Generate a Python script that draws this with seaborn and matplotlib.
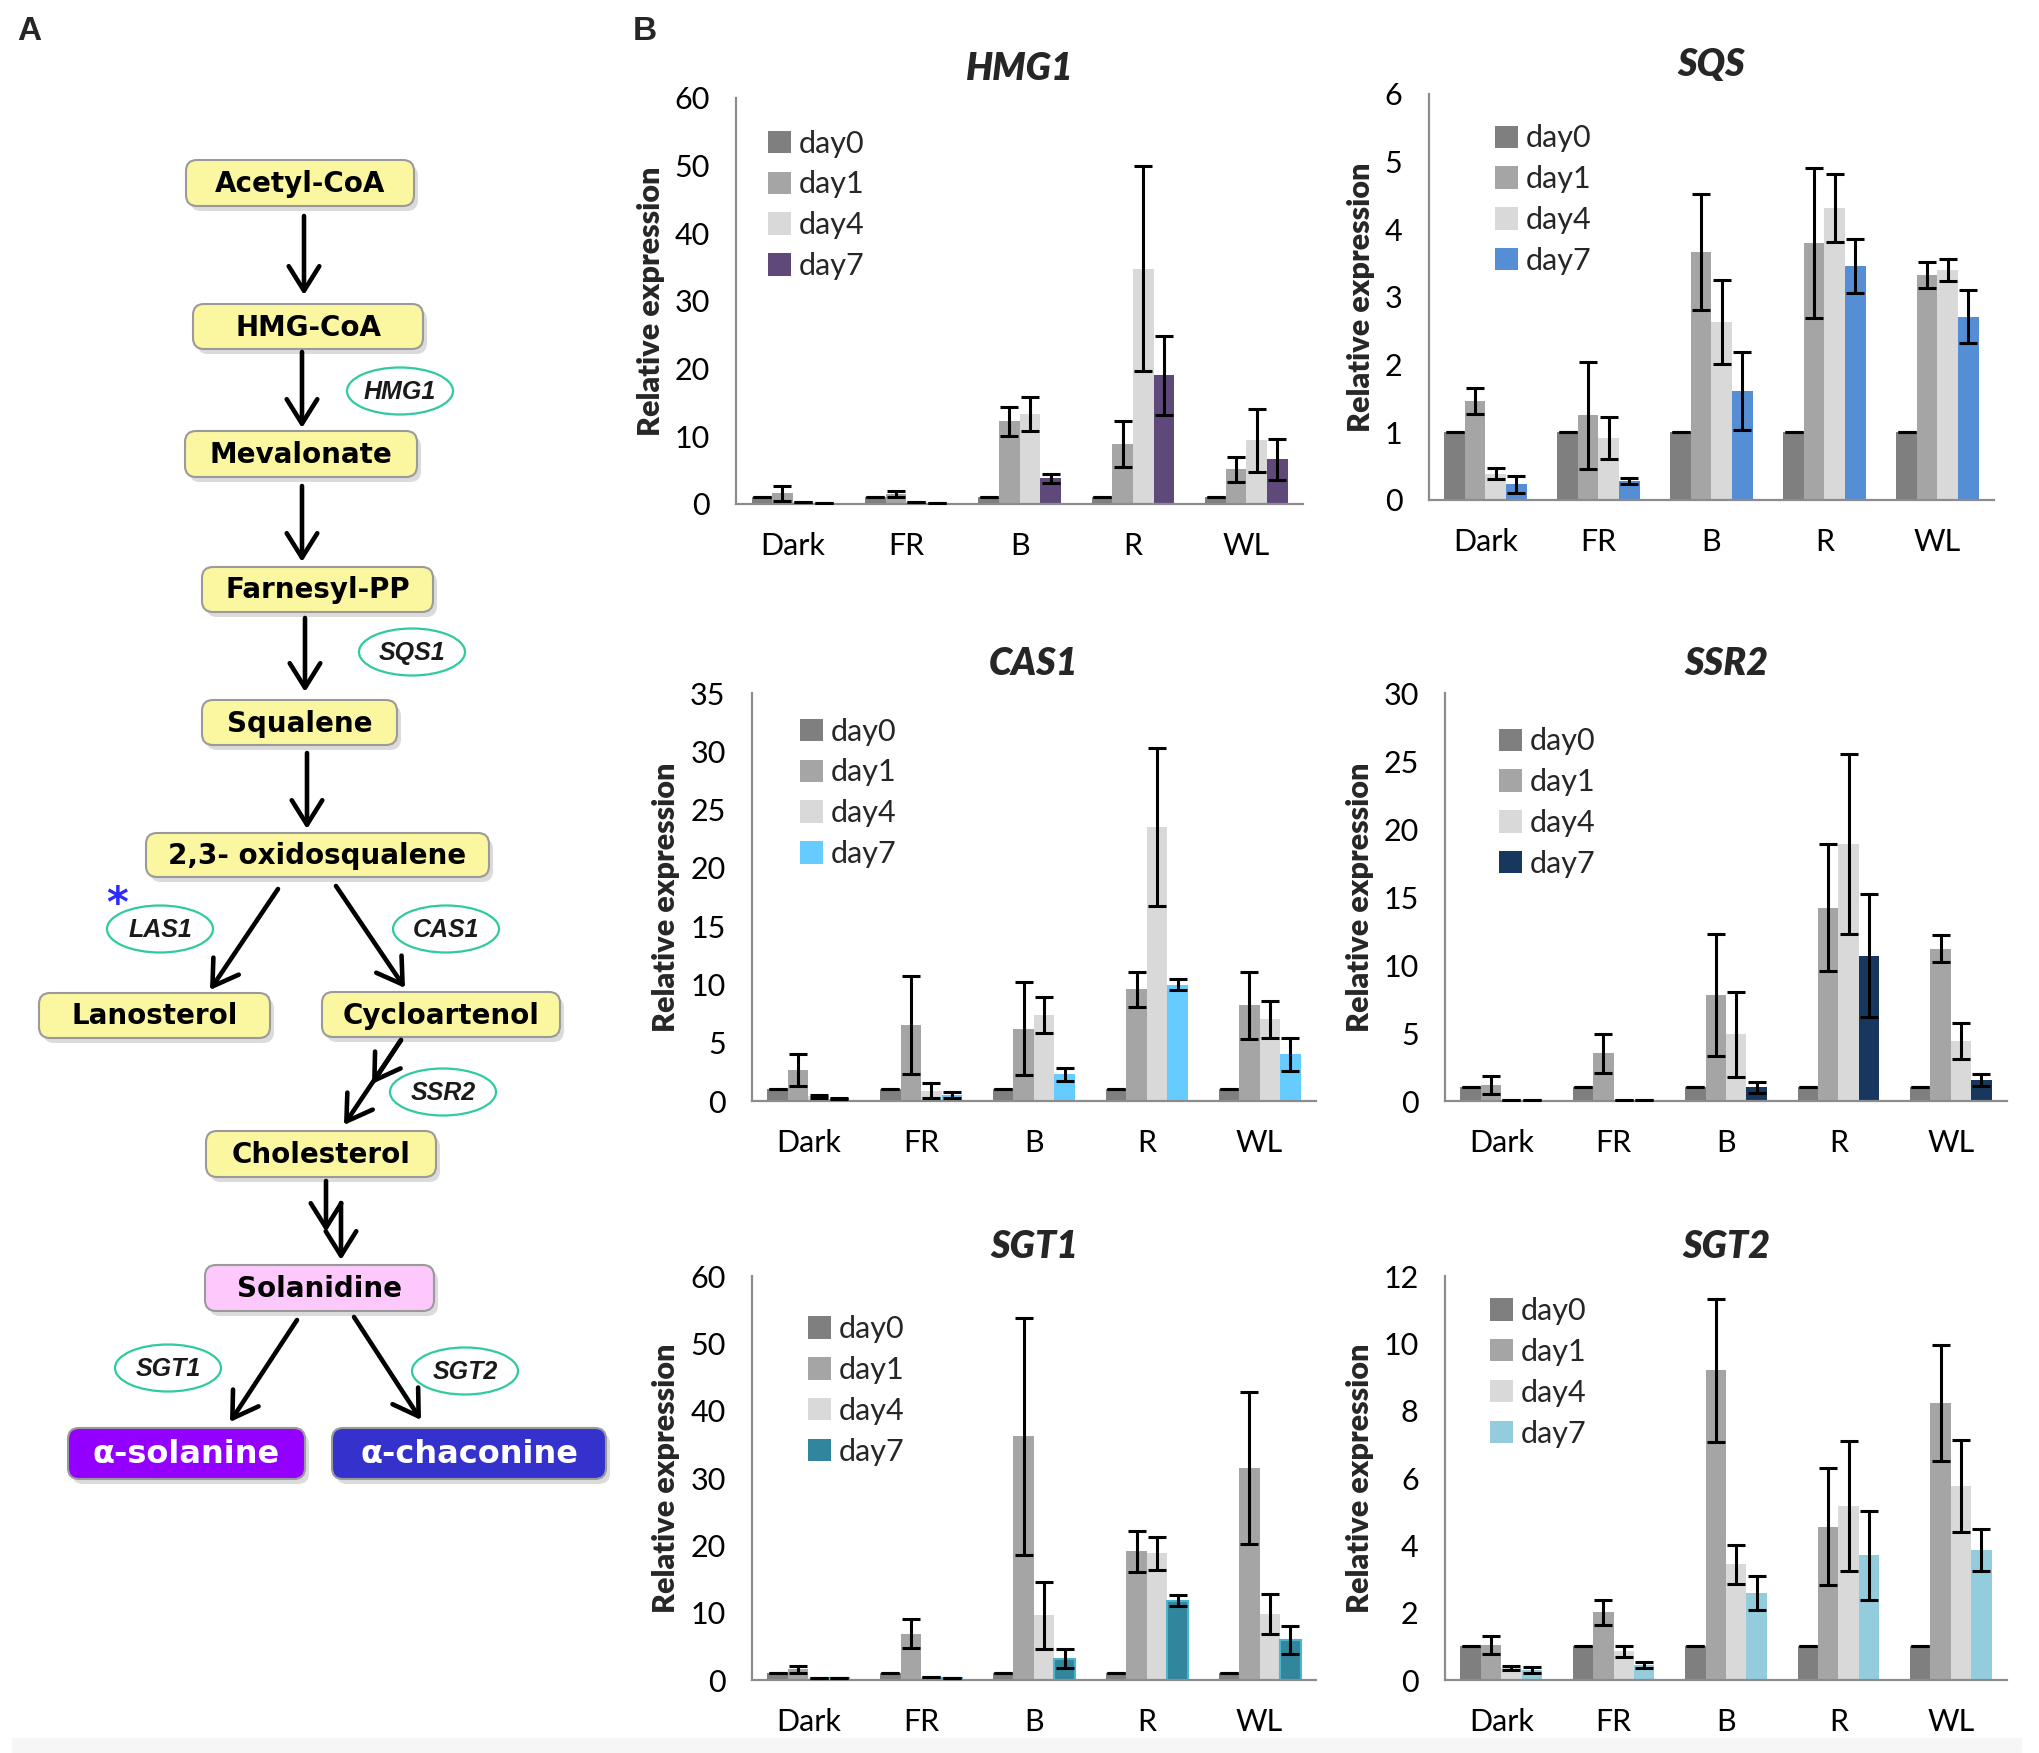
import numpy as np
import pandas as pd
import matplotlib
matplotlib.use("Agg")
import matplotlib.pyplot as plt
from matplotlib.patches import FancyBboxPatch, Ellipse, FancyArrowPatch, Rectangle
from matplotlib.container import BarContainer
import seaborn as sns

# ---------------- data ----------------
conditions = ["Dark", "FR", "B", "R", "WL"]
days = ["day0", "day1", "day4", "day7"]
genes = ["HMG1", "SQS", "CAS1", "SSR2", "SGT1", "SGT2"]

day0_vals = [1, 1, 1, 1, 1]
day0_err = [0, 0, 0, 0, 0]

hmg1_day1 = [1.6, 1.5, 12.2, 8.9, 5.1]
hmg1_day1_err = [1.1, 0.4, 2.2, 3.4, 1.9]
hmg1_day4 = [0.3, 0.3, 13.3, 34.8, 9.4]
hmg1_day4_err = [0.0, 0.0, 2.5, 15.2, 4.6]
hmg1_day7 = [0.2, 0.2, 3.8, 19.0, 6.6]
hmg1_day7_err = [0.0, 0.0, 0.7, 5.8, 3.0]

sqs_day1 = [1.46, 1.25, 3.66, 3.80, 3.32]
sqs_day1_err = [0.19, 0.79, 0.86, 1.11, 0.19]
sqs_day4 = [0.39, 0.91, 2.63, 4.31, 3.40]
sqs_day4_err = [0.08, 0.31, 0.62, 0.50, 0.16]
sqs_day7 = [0.23, 0.28, 1.61, 3.46, 2.71]
sqs_day7_err = [0.12, 0.04, 0.58, 0.40, 0.39]

cas1_day1 = [2.7, 6.5, 6.2, 9.6, 8.2]
cas1_day1_err = [1.37, 4.2, 4.0, 1.5, 2.85]
cas1_day4 = [0.4, 0.9, 7.4, 23.5, 7.0]
cas1_day4_err = [0.15, 0.65, 1.55, 6.75, 1.6]
cas1_day7 = [0.2, 0.55, 2.3, 10.0, 4.0]
cas1_day7_err = [0.03, 0.27, 0.55, 0.5, 1.4]

ssr2_day1 = [1.2, 3.5, 7.8, 14.2, 11.2]
ssr2_day1_err = [0.65, 1.44, 4.5, 4.67, 1.0]
ssr2_day4 = [0.05, 0.05, 4.9, 18.9, 4.4]
ssr2_day4_err = [0.0, 0.0, 3.1, 6.6, 1.33]
ssr2_day7 = [0.05, 0.05, 1.0, 10.7, 1.55]
ssr2_day7_err = [0.0, 0.0, 0.41, 4.55, 0.45]

sgt1_day1 = [1.6, 6.9, 36.2, 19.1, 31.5]
sgt1_day1_err = [0.5, 2.1, 17.6, 3.0, 11.3]
sgt1_day4 = [0.3, 0.4, 9.6, 18.8, 9.8]
sgt1_day4_err = [0.0, 0.0, 5.0, 2.4, 3.0]
sgt1_day7 = [0.3, 0.3, 3.2, 11.8, 6.0]
sgt1_day7_err = [0.0, 0.0, 1.4, 0.8, 2.1]

sgt2_day1 = [1.04, 2.01, 9.2, 4.55, 8.23]
sgt2_day1_err = [0.27, 0.36, 2.12, 1.74, 1.73]
sgt2_day4 = [0.36, 0.85, 3.44, 5.17, 5.77]
sgt2_day4_err = [0.07, 0.16, 0.58, 1.93, 1.36]
sgt2_day7 = [0.3, 0.45, 2.59, 3.7, 3.87]
sgt2_day7_err = [0.08, 0.09, 0.5, 1.33, 0.62]

y_max = [60, 6, 35, 30, 60, 12]
y_step = [10, 1, 5, 5, 10, 2]

# ---------------- style ----------------
sns.set_style("white")
plt.rcParams["font.family"] = ["Lato", "DejaVu Sans"]

base_colors = ["#7f7f7f", "#a5a5a5", "#d9d9d9"]
day7_colors = ["#5f497a", "#558ed5", "#66ccff", "#17375e", "#31859c", "#93cddd"]

series = {
    "HMG1": [(hmg1_day1, hmg1_day1_err), (hmg1_day4, hmg1_day4_err), (hmg1_day7, hmg1_day7_err)],
    "SQS": [(sqs_day1, sqs_day1_err), (sqs_day4, sqs_day4_err), (sqs_day7, sqs_day7_err)],
    "CAS1": [(cas1_day1, cas1_day1_err), (cas1_day4, cas1_day4_err), (cas1_day7, cas1_day7_err)],
    "SSR2": [(ssr2_day1, ssr2_day1_err), (ssr2_day4, ssr2_day4_err), (ssr2_day7, ssr2_day7_err)],
    "SGT1": [(sgt1_day1, sgt1_day1_err), (sgt1_day4, sgt1_day4_err), (sgt1_day7, sgt1_day7_err)],
    "SGT2": [(sgt2_day1, sgt2_day1_err), (sgt2_day4, sgt2_day4_err), (sgt2_day7, sgt2_day7_err)],
}

W, H = 2039, 1753
fig = plt.figure(figsize=(W / 100, H / 100), dpi=100)

# ---------------- overlay (panel A + labels) ----------------
ov = fig.add_axes([0, 0, 1, 1])
ov.set_xlim(0, W)
ov.set_ylim(H, 0)
ov.axis("off")

ov.add_patch(Rectangle((12, 1738), 2010, 15, color="#f6f6f6", lw=0, zorder=0))
ov.text(29, 31, "A", fontsize=24, fontweight="bold", family="Liberation Sans", ha="center", va="center")
ov.text(645, 31, "B", fontsize=24, fontweight="bold", family="Liberation Sans", ha="center", va="center")

yellow = "#fbf6a0"
boxes = [
    ("Acetyl-CoA", 186, 160, 414, 206, yellow, "black", 20),
    ("HMG-CoA", 193, 304, 423, 349, yellow, "black", 20),
    ("Mevalonate", 185, 431, 417, 477, yellow, "black", 20),
    ("Farnesyl-PP", 202, 567, 433, 612, yellow, "black", 20),
    ("Squalene", 202, 700, 397, 745, yellow, "black", 20),
    ("2,3- oxidosqualene", 146, 833, 489, 877, yellow, "black", 20),
    ("Lanosterol", 39, 993, 270, 1038, yellow, "black", 20),
    ("Cycloartenol", 322, 992, 560, 1037, yellow, "black", 20),
    ("Cholesterol", 206, 1131, 436, 1177, yellow, "black", 20),
    ("Solanidine", 205, 1265, 434, 1311, "#fdc8fb", "black", 20),
    ("α-solanine", 68, 1428, 305, 1479, "#9400ff", "white", 23),
    ("α-chaconine", 332, 1428, 606, 1479, "#3431cc", "white", 23),
]
for label, x0, y0, x1, y1, fc, tc, fs in boxes:
    sh = FancyBboxPatch((x0 + 4, y0 + 5), x1 - x0, y1 - y0,
                        boxstyle="round,pad=0,rounding_size=11",
                        fc="#c4c4c4", ec="none", alpha=0.6, zorder=1)
    ov.add_patch(sh)
    bx = FancyBboxPatch((x0, y0), x1 - x0, y1 - y0,
                        boxstyle="round,pad=0,rounding_size=11",
                        fc=fc, ec="#9a9a9a", lw=1.5, zorder=2)
    ov.add_patch(bx)
    ov.text((x0 + x1) / 2, (y0 + y1) / 2 + 1, label, fontsize=fs, fontweight="bold",
            family="DejaVu Sans", color=tc, ha="center", va="center", zorder=3)

arrows = [
    ((304, 216), (304, 295)),
    ((302, 352), (302, 428)),
    ((302, 486), (302, 562)),
    ((305, 618), (305, 692)),
    ((307, 753), (307, 829)),
    ((278, 889), (210, 990)),
    ((336, 886), (405, 988)),
    ((401, 1040), (344, 1125)),
    ((401, 1040), (372, 1084)),
    ((326, 1181), (326, 1232)),
    ((341, 1203), (341, 1260)),
    ((297, 1320), (230, 1422)),
    ((354, 1317), (421, 1420)),
]
for (a, b) in arrows:
    ov.add_patch(FancyArrowPatch(a, b, arrowstyle="->,head_length=0.8,head_width=0.5",
                                 mutation_scale=22, lw=3.3, color="black",
                                 shrinkA=0, shrinkB=0, zorder=3))

enzymes = [("HMG1", 400, 391), ("SQS1", 412, 652), ("LAS1", 160, 929), ("CAS1", 446, 929),
           ("SSR2", 443, 1092), ("SGT1", 168, 1368), ("SGT2", 465, 1371)]
for name, cx, cy in enzymes:
    ov.add_patch(Ellipse((cx, cy), 106, 47, fc="white", ec="#2fcaa0", lw=1.6, zorder=4))
    ov.text(cx, cy + 1, name, fontsize=18, style="italic", fontweight="bold",
            family="Liberation Sans", color="#1a1a1a", ha="center", va="center", zorder=5)
ov.text(117, 905, "*", fontsize=30, fontweight="bold", color="#2b2bff", ha="center",
        va="center", family="DejaVu Sans", zorder=5)

# ---------------- bar charts ----------------
positions = [
    [0.3610, 0.7125, 0.2781, 0.2316],
    [0.7008, 0.7148, 0.2771, 0.2316],
    [0.3688, 0.3719, 0.2766, 0.2327],
    [0.7087, 0.3719, 0.2756, 0.2327],
    [0.3688, 0.0416, 0.2766, 0.2305],
    [0.7087, 0.0416, 0.2756, 0.2305],
]
legend_anchor = [(0.056, 0.922), (0.117, 0.925), (0.085, 0.94),
                 (0.096, 0.916), (0.099, 0.903), (0.08, 0.948)]

for gi, gene in enumerate(genes):
    ax = fig.add_axes(positions[gi])
    vals = [day0_vals] + [s[0] for s in series[gene]]
    errs = [day0_err] + [s[1] for s in series[gene]]
    rows = []
    for di, d in enumerate(days):
        for ci, c in enumerate(conditions):
            rows.append({"condition": c, "day": d, "value": vals[di][ci], "err": errs[di][ci]})
    df = pd.DataFrame(rows)
    pal = base_colors + [day7_colors[gi]]
    sns.barplot(data=df, x="condition", y="value", hue="day", order=conditions,
                hue_order=days, palette=pal, width=0.727, errorbar=None,
                saturation=1, edgecolor="none", linewidth=0, ax=ax)
    bar_conts = [c for c in ax.containers if isinstance(c, BarContainer)]
    for di, cont in enumerate(bar_conts):
        xs = [p.get_x() + p.get_width() / 2 for p in cont.patches]
        ys = [p.get_height() for p in cont.patches]
        ax.errorbar(xs, ys, yerr=errs[di], fmt="none", ecolor="black",
                    elinewidth=2.2, capsize=6.5, capthick=2.2, zorder=5)
        if gene == "SGT1" and di == 3:
            for p in cont.patches:
                p.set_edgecolor("#4bb5d0")
                p.set_linewidth(1.5)
    ax.set_xlim(-0.5, 4.5)
    ax.set_ylim(0, y_max[gi])
    ticks = np.arange(0, y_max[gi] + 0.001, y_step[gi])
    ax.set_yticks(ticks)
    ax.set_yticklabels([str(int(v)) for v in ticks])
    ax.tick_params(axis="both", length=0, labelsize=22, colors="black")
    ax.tick_params(axis="y", pad=19)
    ax.tick_params(axis="x", pad=20)
    ax.set_xlabel("")
    ax.set_ylabel("Relative expression", fontsize=22, fontweight="heavy", labelpad=7)
    ax.set_title(gene, fontsize=27, fontweight="heavy", style="italic", pad=13)
    for s in ["top", "right"]:
        ax.spines[s].set_visible(False)
    for s in ["left", "bottom"]:
        ax.spines[s].set_color("#8c8c8c")
        ax.spines[s].set_linewidth(1.6)
    ax.set_facecolor("none")
    leg = ax.legend(loc="upper left", bbox_to_anchor=legend_anchor[gi], frameon=False,
                    fontsize=22, borderpad=0, borderaxespad=0, labelspacing=0.42,
                    handlelength=0.75, handleheight=0.75, handletextpad=0.25, title=None)
    if gene == "SGT1":
        leg.legend_handles[3].set_edgecolor("#4bb5d0")

fig.savefig("out.png", dpi=100)
